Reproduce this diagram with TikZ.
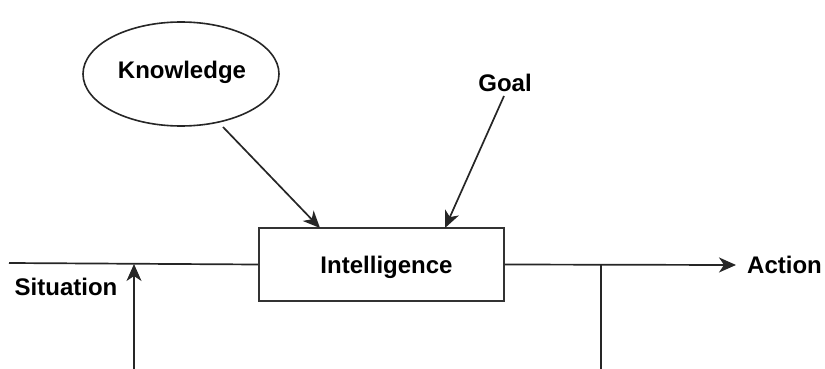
\documentclass[tikz,border=0pt]{standalone}
\usepackage{fontspec}
\setmainfont{Liberation Sans}
\usetikzlibrary{arrows.meta,calc,shapes.geometric}

\tikzset{
  wire/.style={line width=1.7pt, draw=black!85},
  arrowwire/.style={wire, -{Stealth[length=17pt,width=15pt,inset=5pt]}},
  lbl/.style={font=\fontsize{24}{27}\selectfont\bfseries, inner sep=0pt},
  blockbox/.style={draw=black!80, line width=1.7pt, minimum width=245pt, minimum height=73pt, inner sep=0pt},
  cloud/.style={draw=black!85, line width=1.6pt, ellipse, minimum width=196pt, minimum height=104pt, inner sep=0pt}
}

\begin{document}
\begin{tikzpicture}[x=1pt, y=-1pt]
  \useasboundingbox (0,0) rectangle (825,369);

  % central block and its inputs
  \node[blockbox, label={[name=intellabel, lbl, xshift=5pt, yshift=-2.5pt]center:Intelligence}] (intel) at (381.5,264.5) {};
  \node[cloud] (know) at (181,74) {};
  \node[lbl] (knowlabel) at (182,72) {Knowledge};
  \node[lbl] (goal) at (505,83) {Goal};
  \node[lbl] (situation) at (66,287) {Situation};
  \node[lbl, anchor=west] (action) at (747,265) {Action};

  % free ends of the connectors
  \coordinate (kstart) at (223,127);
  \coordinate (ktip) at (320,228);
  \coordinate (gstart) at (504,96);
  \coordinate (gtip) at (445,228);
  \coordinate (sitstart) at (9,263);
  \coordinate (upbottom) at (134,370);
  \coordinate (uptip) at (134,264);
  \coordinate (acttip) at (736,265);
  \coordinate (junction) at (601,265);
  \coordinate (downend) at (601,370);

  % connectors
  \draw[arrowwire] (kstart) -- (ktip);
  \draw[arrowwire] (gstart) -- (gtip);
  \draw[wire] (sitstart) -- (intel.west);
  \draw[arrowwire] (upbottom) -- (uptip);
  \draw[arrowwire] (intel.east) -- (acttip);
  \draw[wire] (junction) -- (downend);
\end{tikzpicture}
\end{document}
